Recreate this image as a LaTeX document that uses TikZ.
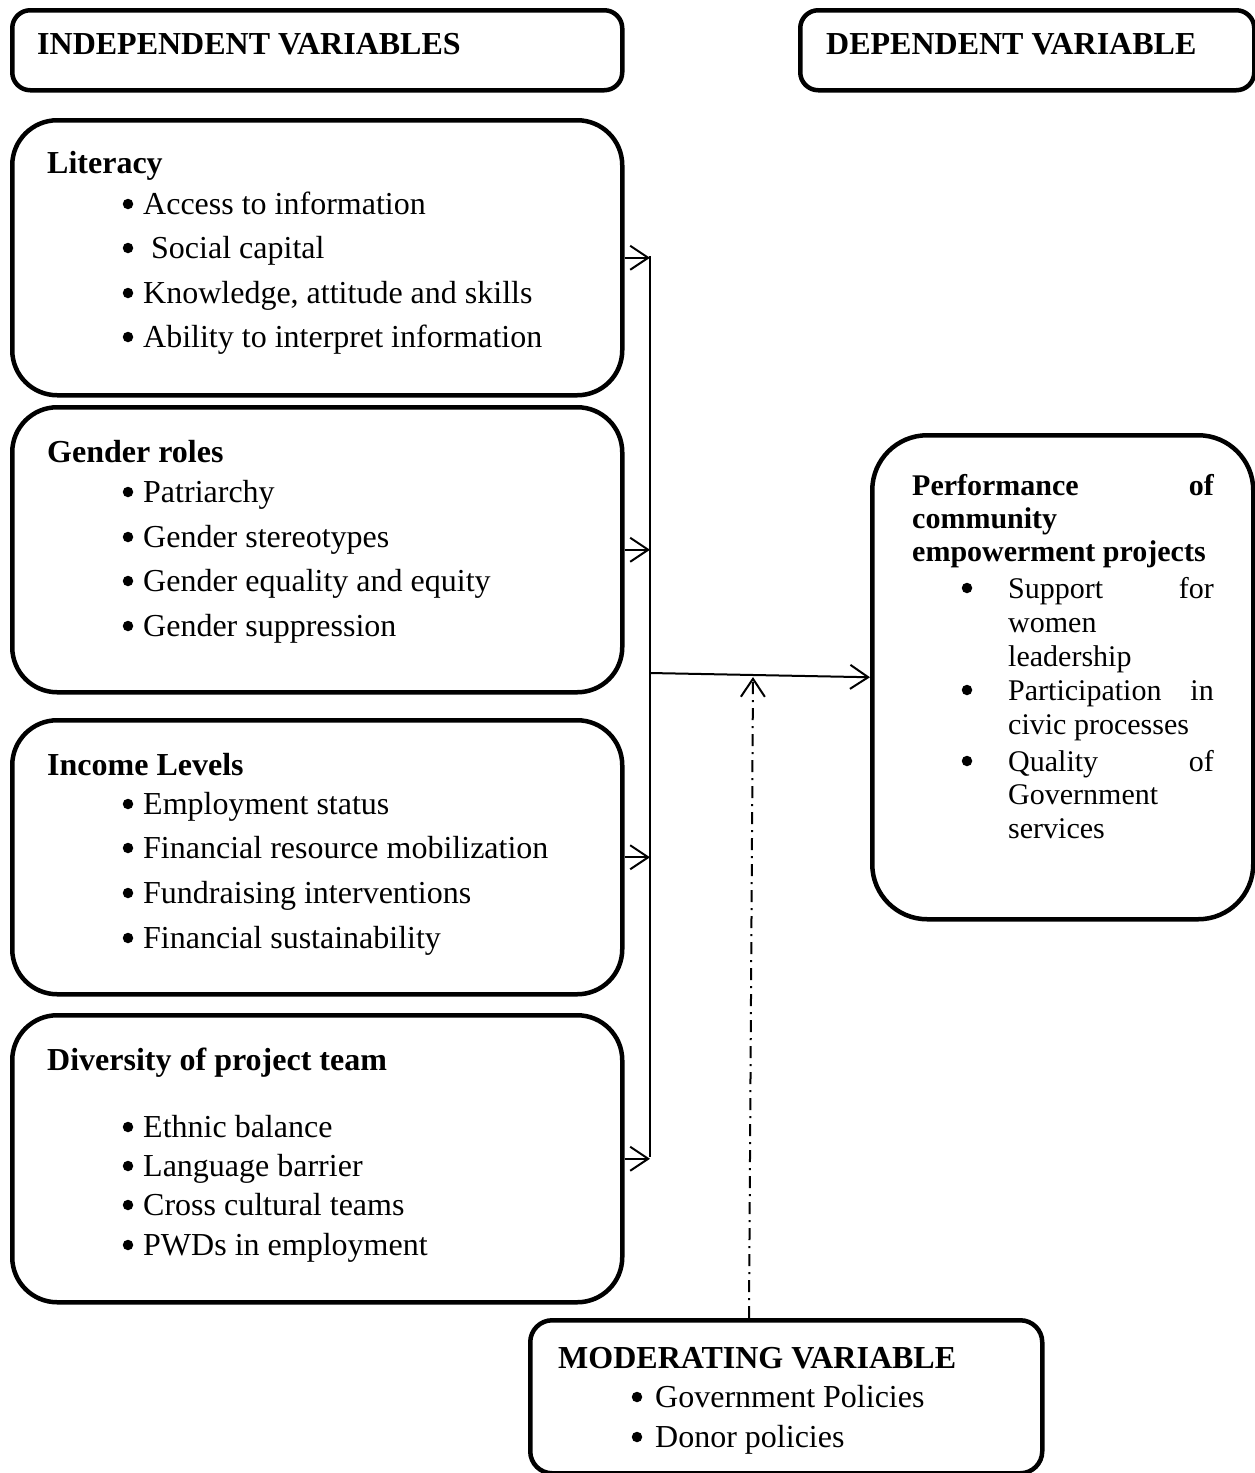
\documentclass[tikz,border=0pt]{standalone}
\usepackage{fontspec}
\setmainfont{Liberation Serif}
\usetikzlibrary{arrows.meta}
\begin{document}
\begin{tikzpicture}[x=1pt,y=-1pt,
  box/.style={draw,line width=4.5pt,inner sep=0pt,anchor=north west},
  txt/.style={anchor=base west,inner sep=0pt,font=\fontsize{32}{38}\selectfont},
  btxt/.style={txt,font=\fontsize{32}{38}\selectfont\bfseries},
  ptxt/.style={anchor=base west,inner sep=0pt,font=\fontsize{30}{36}\selectfont},
  pbtxt/.style={ptxt,font=\fontsize{30}{36}\selectfont\bfseries},
  prtxt/.style={anchor=base east,inner sep=0pt,font=\fontsize{30}{36}\selectfont},
  prbtxt/.style={prtxt,font=\fontsize{30}{36}\selectfont\bfseries},
  bul/.style={circle,fill,inner sep=0pt,minimum size=10.5pt},
  conn/.style={line width=2pt},
  arr/.style={conn,-{Straight Barb[length=18pt,width=24pt,line width=2pt]}}]
\useasboundingbox (0,0) rectangle (1254,1473);
% boxes
\node[box,rounded corners=18pt,minimum width=610pt,minimum height=80pt] (h1) at (10,8) {};
\node[box,rounded corners=18pt,minimum width=454pt,minimum height=80pt] (h2) at (798,8) {};
\node[box,rounded corners=45pt,minimum width=610pt,minimum height=275pt] (lit) at (10,118) {};
\node[box,rounded corners=45pt,minimum width=610pt,minimum height=285pt] (gen) at (10,405) {};
\node[box,rounded corners=45pt,minimum width=610pt,minimum height=274pt] (inc) at (10,718) {};
\node[box,rounded corners=45pt,minimum width=610pt,minimum height=287pt] (div) at (10,1013) {};
\node[box,rounded corners=55pt,minimum width=381pt,minimum height=484pt] (perf) at (870,433) {};
\node[box,rounded corners=22pt,minimum width=512pt,minimum height=153pt] (mod) at (528,1318) {};
% headers
\node[btxt] (h1t) at (37,54) {INDEPENDENT VARIABLES};
\node[btxt] (h2t) at (826,54) {DEPENDENT VARIABLE};
% literacy
\node[btxt] (litt) at (47,173) {Literacy};
\foreach \t/\y [count=\i] in {Access to information/214, {\ Social capital}/258, {Knowledge, attitude and skills}/303, Ability to interpret information/347}
  {\node[bul] (litb\i) at (128,\y-10) {}; \node[txt] (lit\i) at (143,\y) {\t};}
% gender
\node[btxt] (gent) at (47,462) {Gender roles};
\foreach \t/\y [count=\i] in {Patriarchy/502, Gender stereotypes/547, Gender equality and equity/591, Gender suppression/636}
  {\node[bul] (genb\i) at (128,\y-10) {}; \node[txt] (gen\i) at (143,\y) {\t};}
% income
\node[btxt] (inct) at (47,775) {Income Levels};
\foreach \t/\y [count=\i] in {Employment status/814, Financial resource mobilization/858, Fundraising interventions/903, Financial sustainability/948}
  {\node[bul] (incb\i) at (128,\y-10) {}; \node[txt] (inc\i) at (143,\y) {\t};}
% diversity
\node[btxt] (divt) at (47,1070) {Diversity of project team};
\foreach \t/\y [count=\i] in {Ethnic balance/1137, Language barrier/1176, Cross cultural teams/1215, PWDs in employment/1255}
  {\node[bul] (divb\i) at (128,\y-10) {}; \node[txt] (div\i) at (143,\y) {\t};}
% performance
\node[pbtxt] (pt1) at (912,495) {Performance};
\node[prbtxt] (pt1b) at (1214,495) {of};
\node[pbtxt] (pt2) at (912,528) {community};
\node[pbtxt] (pt3) at (912,561) {empowerment projects};
\node[bul] (pb1) at (967,588) {};
\node[ptxt] (p1a) at (1008,598) {Support};
\node[prtxt] (p1b) at (1214,598) {for};
\node[ptxt] (p1c) at (1008,632) {women};
\node[ptxt] (p1d) at (1008,666) {leadership};
\node[bul] (pb2) at (967,690) {};
\node[ptxt] (p2a) at (1008,700) {Participation};
\node[prtxt] (p2b) at (1214,700) {in};
\node[ptxt] (p2c) at (1008,734) {civic processes};
\node[bul] (pb3) at (967,761) {};
\node[ptxt] (p3a) at (1008,771) {Quality};
\node[prtxt] (p3b) at (1214,771) {of};
\node[ptxt] (p3c) at (1008,804) {Government};
\node[ptxt] (p3d) at (1008,838) {services};
% moderating
\node[btxt] (mt) at (558,1368) {MODERATING VARIABLE};
\node[bul] (mb1) at (637,1397) {};
\node[txt] (m1) at (655,1407) {Government Policies};
\node[bul] (mb2) at (637,1437) {};
\node[txt] (m2) at (655,1447) {Donor policies};
% connectors
\coordinate (vtop) at (650,256);
\coordinate (vbot) at (650,1157);
\coordinate (vmid) at (650,673);
\coordinate (dtip) at (753,677);
\coordinate (dbot) at (749,1318);
\draw[conn] (vtop) -- (vbot);
\draw[arr] (lit.east) -- (lit.east -| vtop);
\draw[arr] (gen.east) -- (gen.east -| vtop);
\draw[arr] (inc.east) -- (inc.east -| vtop);
\draw[arr] (div.east) -- (div.east -| vtop);
\draw[arr] (vmid) -- (perf.west);
\draw[arr,dash pattern=on 12pt off 6pt on 2pt off 6pt] (dbot) -- (dtip);
\end{tikzpicture}
\end{document}
